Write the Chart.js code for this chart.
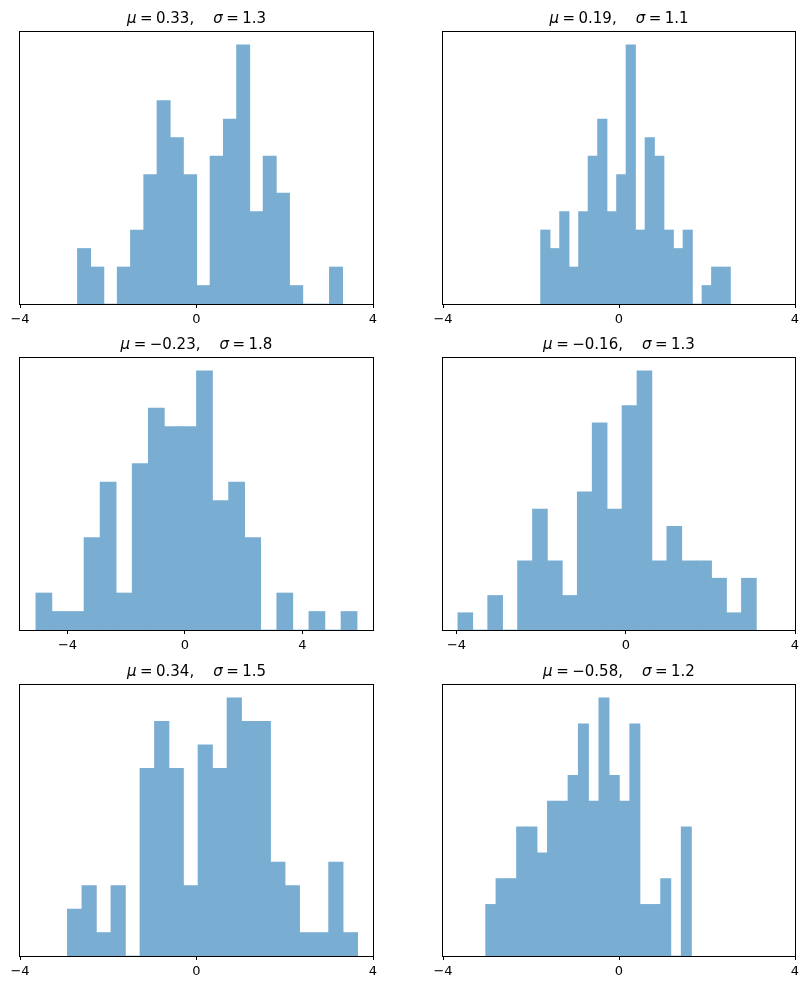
<!DOCTYPE html>
<html><head><meta charset="utf-8">
<script src="https://cdn.jsdelivr.net/npm/chart.js@4.4.0/dist/chart.umd.min.js"></script>
<style>
html,body{margin:0;padding:0;background:#fff;}
body{width:809px;height:990px;position:relative;overflow:hidden;font-family:"DejaVu Sans",sans-serif;}
canvas{position:absolute;}
.title{position:absolute;text-align:center;font-size:15px;line-height:18px;white-space:pre;color:#000;}
.title i{font-style:italic;}
.title .r{margin:0 3.5px;}
.title .q{display:inline-block;width:19px;}
</style></head><body>
<script>
// ---- data ----
const titleMu    = ["0.33", "0.19", "\u22120.23", "\u22120.16", "0.34", "\u22120.58"];
const titleSigma = ["1.3", "1.1", "1.8", "1.3", "1.5", "1.2"];

const counts1 = [3, 2, 0, 2, 4, 7, 11, 9, 7, 1, 8, 10, 14, 5, 8, 6, 1, 0, 0, 2];
const counts2 = [4, 3, 5, 2, 5, 8, 10, 5, 7, 14, 4, 9, 8, 4, 3, 4, 0, 1, 2, 2];
const counts3 = [2, 1, 1, 5, 8, 2, 9, 12, 11, 11, 14, 7, 8, 5, 0, 2, 0, 1, 0, 1];
const counts4 = [1, 0, 2, 0, 4, 7, 4, 2, 8, 12, 7, 13, 15, 4, 6, 4, 4, 3, 1, 3];
const counts5 = [2, 3, 1, 3, 0, 8, 10, 8, 3, 9, 8, 11, 10, 10, 4, 3, 1, 1, 4, 1];
const counts6 = [2, 3, 3, 5, 5, 4, 6, 6, 7, 9, 6, 10, 7, 6, 9, 2, 2, 3, 0, 5];

// lowest and highest bin edge of each histogram (20 equal bins)
const binLow  = [-2.699, -1.782, -5.080, -3.969, -2.926, -3.031];
const binHigh = [ 3.312,  2.533,  5.867,  3.087,  3.652,  1.647];

// x-axis view limits of each panel
const xMin = [-4, -4, -5.62, -4.32, -4, -4];
const xMax = [ 4,  4,  6.41,  4,     4,  4];
const xTicks = [-4, 0, 4];

// ---- layout ----
const allCounts = [counts1, counts2, counts3, counts4, counts5, counts6];
const axLeft = [20, 443];
const axW = [353, 352];
const axTop = [32, 358, 685];
const axH = [272, 272, 271];
const PADL = 20, PADR = 20, PADT = 30, XAXH = 28;
const barColor = 'rgb(121,173,210)';

const framePlugin = {
  id: 'frame',
  afterDraw(chart) {
    const a = chart.chartArea, ctx = chart.ctx;
    ctx.save();
    ctx.strokeStyle = '#000';
    ctx.lineWidth = 1;
    ctx.strokeRect(Math.round(a.left) - 0.5, Math.round(a.top) - 0.5,
                   Math.round(a.right - a.left) + 1, Math.round(a.bottom - a.top) + 1);
    ctx.restore();
  }
};

function fmt(v) { return v < 0 ? '\u2212' + Math.abs(v) : String(v); }

allCounts.forEach((counts, p) => {
  const col = p % 2, row = Math.floor(p / 2);
  const L = axLeft[col], W = axW[col], T = axTop[row], H = axH[row];

  const cv = document.createElement('canvas');
  const cw = W + PADL + PADR, ch = PADT + H + XAXH;
  cv.width = cw; cv.height = ch;
  cv.style.width = cw + 'px'; cv.style.height = ch + 'px';
  cv.style.left = (L - PADL) + 'px'; cv.style.top = (T - PADT) + 'px';
  document.body.appendChild(cv);

  const t = document.createElement('div');
  t.className = 'title';
  t.style.left = L + 'px'; t.style.width = W + 'px';
  t.style.top = (T - 23) + 'px';
  t.innerHTML = '<i>\u03bc</i><span class="r">=</span>' + titleMu[p] +
                ',<span class="q"></span><i>\u03c3</i><span class="r">=</span>' + titleSigma[p];
  document.body.appendChild(t);

  const bw = (binHigh[p] - binLow[p]) / counts.length;
  const data = counts.map((c, i) => ({ x: binLow[p] + (i + 0.5) * bw, y: c }));

  new Chart(cv, {
    type: 'bar',
    data: { datasets: [{ data, backgroundColor: barColor, borderWidth: 0,
                         barPercentage: 1, categoryPercentage: 1 }] },
    options: {
      responsive: false, animation: false, devicePixelRatio: 1,
      layout: { padding: { left: PADL, right: PADR, top: PADT, bottom: 0 } },
      plugins: { legend: { display: false }, tooltip: { enabled: false }, title: { display: false } },
      scales: {
        x: {
          type: 'linear', min: xMin[p], max: xMax[p], offset: false,
          afterBuildTicks: s => { s.ticks = xTicks.map(v => ({ value: v })); },
          afterFit: s => { s.height = XAXH; },
          grid: { display: true, offset: false, drawOnChartArea: false, drawTicks: true,
                  tickLength: 4, color: '#000', lineWidth: 1 },
          border: { display: false },
          ticks: { color: '#000', padding: 4, maxRotation: 0, autoSkip: false,
                   font: { family: 'DejaVu Sans', size: 13 }, callback: v => fmt(v) }
        },
        y: { display: false, min: 0, max: Math.max(...counts) * 1.05 }
      }
    },
    plugins: [framePlugin]
  });
});
</script>
</body></html>
